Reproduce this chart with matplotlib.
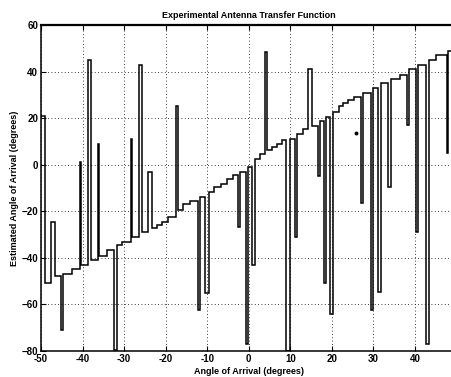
import matplotlib
matplotlib.use("Agg")
import matplotlib.pyplot as plt
import numpy as np

# Estimated angle (deg) as a step function of true angle of arrival (deg)
step_starts = [-50.0, -49.1, -47.7, -46.6, -45.3, -44.6, -42.5, -40.5, -40.3, -38.6,
               -38.0, -36.4, -36.0, -34.0, -32.4, -31.6, -30.5, -28.4, -28.1, -26.3,
               -25.6, -24.3, -23.3, -22.0, -20.8, -19.5, -17.5, -17.1, -15.8, -14.2,
               -12.2, -11.7, -10.6, -9.6, -8.3, -6.8, -5.3, -3.8, -2.6, -2.2,
               -0.6, -0.1, 0.8, 1.4, 2.7, 3.8, 4.4, 5.6, 6.8, 8.0,
               9.0, 9.9, 11.1, 11.6, 13.1, 14.3, 15.1, 16.7, 17.1, 18.1,
               18.5, 19.5, 20.3, 21.7, 22.6, 23.8, 25.4, 26.9, 27.4, 29.4,
               30.0, 31.2, 31.9, 33.6, 34.3, 36.4, 38.0, 38.6, 40.2, 40.8,
               42.6, 43.3, 45.0, 47.6, 48.0]
step_end = 50.0
step_levels = [21, -51, -24.5, -48, -71, -47, -44.7, 1, -43, 45,
               -41, 9, -39.3, -36.8, -79.5, -34.5, -33, 11, -31, 43,
               -29, -3, -27, -25.8, -24.4, -22.5, 25, -19.4, -17, -15.8,
               -62.4, -13.7, -55, -11.6, -9.5, -8.3, -6, -4.5, -26.6, -3,
               -77, -1, -43, 2.5, 4.5, 48.5, 6.5, 7.8, 9, 10.6,
               -80, 11, -31, 13.1, 15.2, 41, 16.6, -5, 18.8, -51,
               20.6, -64, 22.8, 25, 26.7, 27.8, 29.2, -16.5, 31, -62.4,
               33, -54.5, 35, -9.5, 36.7, 38.5, 17, 41, -28.7, 42.8,
               -77, 44.8, 47.1, 5, 49]

# isolated point visible in the plot
dot_x = [25.9]
dot_y = [13.5]

title = "Experimental Antenna Transfer Function"
xlabel = "Angle of Arrival (degrees)"
ylabel = "Estimated Angle of Arrival (degrees)"
xticks = [-50, -40, -30, -20, -10, 0, 10, 20, 30, 40, 50]
xticklabels = ["-50", "-40", "-30", "-20", "-10", "0", "10", "20", "30", "40", ""]
yticks = [-80, -60, -40, -20, 0, 20, 40, 60]

plt.rcParams['font.family'] = ['Liberation Sans', 'DejaVu Sans']

fig = plt.figure(figsize=(4.52, 3.77), dpi=100)
ax = fig.add_axes([0.0907, 0.069, 0.9195, 0.8647])

edges = step_starts + [step_end]
ax.stairs(step_levels, edges, baseline=None, color='black', linewidth=1.1)
ax.plot(dot_x, dot_y, 'o', color='black', markersize=1.8)

ax.set_xlim(-50, 50)
ax.set_ylim(-80, 60)
ax.set_xticks(xticks)
ax.set_xticklabels(xticklabels)
ax.set_yticks(yticks)
ax.grid(True, color='black', linestyle=(0, (1, 3)), linewidth=0.6)
ax.tick_params(direction='in', top=True, right=True, length=3.5, width=0.8,
               labelsize=7, pad=2)
for lab in ax.get_xticklabels() + ax.get_yticklabels():
    lab.set_fontweight('bold')
for sp in ax.spines.values():
    sp.set_linewidth(1.1)
ax.spines['top'].set_linewidth(1.6)

ax.set_title(title, fontsize=6.5, fontweight='bold', pad=5)
ax.set_xlabel(xlabel, fontsize=6.5, fontweight='bold', labelpad=2)
ax.set_ylabel(ylabel, fontsize=6.5, fontweight='bold', labelpad=2)

fig.savefig("out.png", dpi=100)
